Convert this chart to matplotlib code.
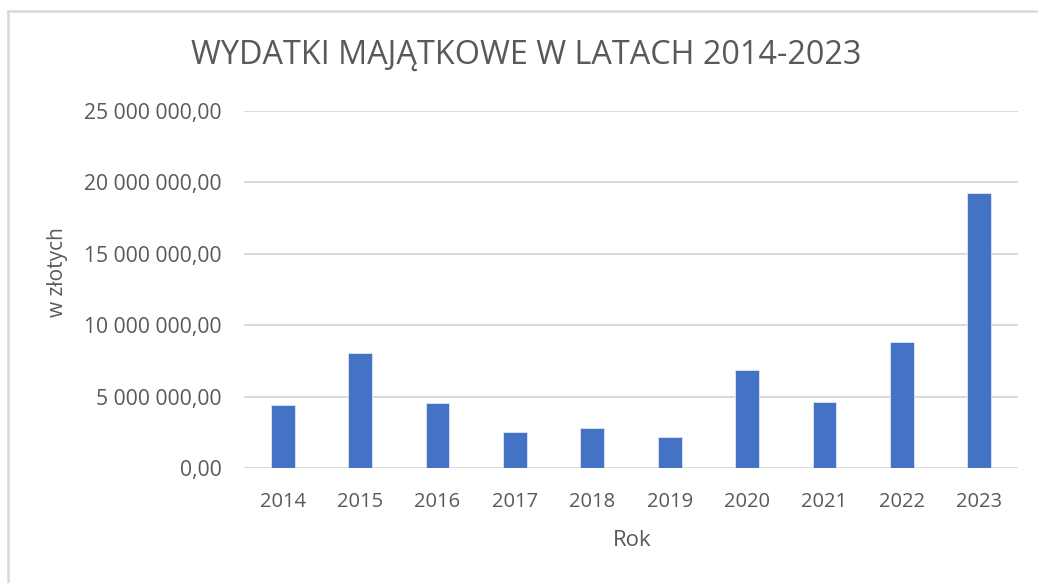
import matplotlib
matplotlib.use("Agg")
import matplotlib.pyplot as plt
from matplotlib.ticker import FuncFormatter, MultipleLocator
from matplotlib.lines import Line2D

years = ["2014", "2015", "2016", "2017", "2018", "2019", "2020", "2021", "2022", "2023"]
values = [4410000, 8030000, 4530000, 2540000, 2800000, 2160000, 6840000, 4610000, 8790000, 19260000]
title = "WYDATKI MAJĄTKOWE W LATACH 2014-2023"
xlabel = "Rok"
ylabel = "w złotych"

plt.rcParams['font.family'] = ['Open Sans', 'DejaVu Sans']
TXT = "#595959"
W, H = 1038, 583
fig = plt.figure(figsize=(W / 100, H / 100), dpi=100)
ax = fig.add_axes([244 / W, 1 - 468.3 / H, (1018 - 244) / W, (468.3 - 110.5) / H])

x = range(len(years))
ax.bar(x, values, width=0.31, color="#4472C4", edgecolor="#dde6f5", linewidth=0.6, zorder=3)
ax.set_xlim(-0.5, len(years) - 0.5)
ax.set_ylim(0, 25000000)
ax.yaxis.set_major_locator(MultipleLocator(5000000))

def fmt(v, pos):
    s = f"{v:,.2f}"
    return s.replace(",", " ").replace(".", ",")

ax.yaxis.set_major_formatter(FuncFormatter(fmt))
ax.set_xticks(list(x))
ax.set_xticklabels(years)
ax.grid(axis="y", color="#d9d9d9", linewidth=1.4, zorder=0)
ax.set_axisbelow(True)
for s in ax.spines.values():
    s.set_visible(False)
ax.tick_params(axis="both", length=0, labelcolor=TXT)
ax.tick_params(axis="y", pad=16, labelsize=15.2)
ax.tick_params(axis="x", pad=17, labelsize=14.5)

fig.text(526 / W, 1 - 55 / H, title, ha="center", va="center", fontsize=23.3, color=TXT)
fig.text(632 / W, 1 - 541 / H, xlabel, ha="center", va="center", fontsize=16, color=TXT)
fig.text(57 / W, 1 - 272 / H, ylabel, ha="center", va="center", rotation=90, fontsize=15, color=TXT)

# chart area border
fig.add_artist(Line2D([8 / W, 1037 / W], [1 - 11.3 / H, 1 - 11.3 / H], transform=fig.transFigure, color="#d9d9d9", lw=1.8))
fig.add_artist(Line2D([8.2 / W, 8.2 / W], [1 - 11.3 / H, 0], transform=fig.transFigure, color="#d9d9d9", lw=1.8))

fig.savefig("out.png", dpi=100, facecolor="white")
